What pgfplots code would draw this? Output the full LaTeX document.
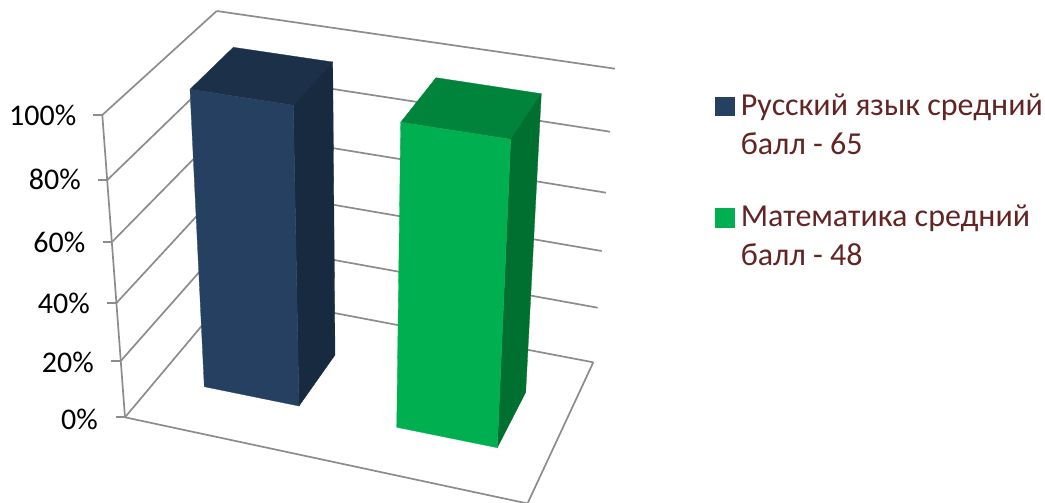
\documentclass[border=0pt]{standalone}
\usepackage{fontspec}
\setmainfont{Carlito}
\usepackage{pgfplots}
\pgfplotsset{compat=1.18}
\definecolor{gridc}{HTML}{8C8C8C}
\definecolor{bluef}{HTML}{254061}
\definecolor{bluet}{HTML}{1D3049}
\definecolor{blues}{HTML}{182A40}
\definecolor{greenf}{HTML}{00B050}
\definecolor{greent}{HTML}{00843B}
\definecolor{greens}{HTML}{007030}
\definecolor{legtext}{HTML}{632523}
\begin{document}
\begin{tikzpicture}
\useasboundingbox (0,0) rectangle (1045pt,503pt);
\begin{axis}[
  scale only axis, width=1045pt, height=503pt,
  xmin=0, xmax=1045, ymin=0, ymax=503, y dir=reverse,
  hide axis, clip=true,
  legend style={at={(axis cs:715,92)}, anchor=north west, draw=none, fill=none,
    font=\fontsize{32}{39}\selectfont, text=legtext, inner sep=0pt, outer sep=0pt,
    row sep=45pt, column sep=5pt,
    cells={align=left, anchor=base west}},
  legend image code/.code={\fill[#1] (0pt,39pt) rectangle (18.5pt,57.5pt);},
  grid line/.style={gridc, line width=1.7pt, forget plot},
  face/.style={forget plot},
]
% back wall
\addplot[grid line] coordinates {(216.7,11)(615,68.7)};
\addplot[grid line] coordinates {(219.4,71.5)(610,131.7)};
\addplot[grid line] coordinates {(222,130)(606,192.7)};
\addplot[grid line] coordinates {(224.5,186)(601.7,251)};
\addplot[grid line] coordinates {(227,240.6)(597.7,307.7)};
\addplot[grid line] coordinates {(229.3,293)(593.3,362.3)};
% side wall
\addplot[grid line] coordinates {(102.3,115)(216.7,11)};
\addplot[grid line] coordinates {(107.3,180)(219.4,71.5)};
\addplot[grid line] coordinates {(112.3,241.7)(222,130)};
\addplot[grid line] coordinates {(116.7,302.7)(224.5,186)};
\addplot[grid line] coordinates {(121,360.7)(227,240.6)};
\addplot[grid line] coordinates {(125,417.3)(229.3,293)};
% value axis and ticks
\addplot[grid line] coordinates {(102.3,115)(125,417.3)};
\addplot[grid line] coordinates {(93,115)(102.3,115)};
\addplot[grid line] coordinates {(98,180)(107.3,180)};
\addplot[grid line] coordinates {(103,241.7)(112.3,241.7)};
\addplot[grid line] coordinates {(107,302.7)(116.7,302.7)};
\addplot[grid line] coordinates {(111,360.7)(121,360.7)};
\addplot[grid line] coordinates {(116,417.3)(125,417.3)};
% floor
\addplot[grid line] coordinates {(125,417.3)(527.5,503.5)(593.3,362.3)};
% blue bar
\addplot[face, fill=bluet, draw=bluet, line width=0.3pt] coordinates {(190,89.3)(233.3,47.3)(332.7,62)(293.3,105.3)} --cycle;
\addplot[face, fill=blues, draw=blues, line width=0.3pt] coordinates {(293.3,105.3)(332.7,62)(335,355)(299,406)} --cycle;
\addplot[fill=bluef, draw=bluef, line width=0.3pt] coordinates {(190,89.3)(293.3,105.3)(299,406)(204.3,386.7)} --cycle;
\addlegendentry{Русский язык средний\\балл - 65}
% green bar
\addplot[face, fill=greent, draw=greent, line width=0.3pt] coordinates {(400.7,122.3)(436,77.7)(541.3,93.7)(510.7,139.3)} --cycle;
\addplot[face, fill=greens, draw=greens, line width=0.3pt] coordinates {(510.7,139.3)(541.3,93.7)(525.7,392.3)(497.3,447.7)} --cycle;
\addplot[fill=greenf, draw=greenf, line width=0.3pt] coordinates {(400.7,122.3)(510.7,139.3)(497.3,447.7)(396.7,427.3)} --cycle;
\addlegendentry{Математика средний\\балл - 48}
% value labels
\node[anchor=base east, font=\fontsize{30}{35}\selectfont, inner sep=0pt] at (axis cs:76.5,125) {100\%};
\node[anchor=base east, font=\fontsize{30}{35}\selectfont, inner sep=0pt] at (axis cs:81,189) {80\%};
\node[anchor=base east, font=\fontsize{30}{35}\selectfont, inner sep=0pt] at (axis cs:85.5,252) {60\%};
\node[anchor=base east, font=\fontsize{30}{35}\selectfont, inner sep=0pt] at (axis cs:90,313) {40\%};
\node[anchor=base east, font=\fontsize{30}{35}\selectfont, inner sep=0pt] at (axis cs:94,372) {20\%};
\node[anchor=base east, font=\fontsize{30}{35}\selectfont, inner sep=0pt] at (axis cs:98,429) {0\%};
\end{axis}
\end{tikzpicture}
\end{document}
